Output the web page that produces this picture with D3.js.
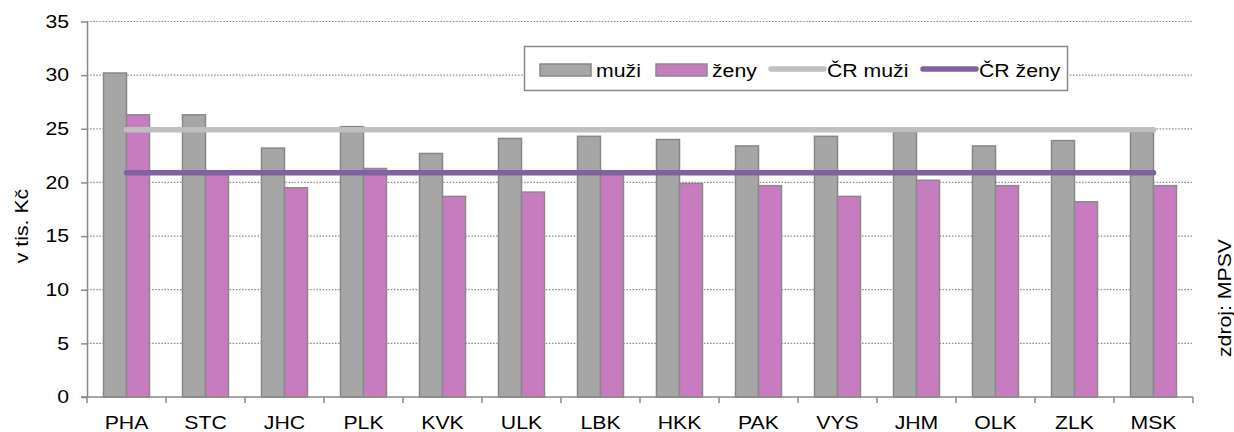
<!DOCTYPE html>
<html>
<head>
<meta charset="utf-8">
<script src="https://cdn.jsdelivr.net/npm/d3@7"></script>
<style>
  html, body { margin: 0; padding: 0; background: #fff; }
  svg { display: block; font-family: "Liberation Sans", Arial, sans-serif; }
</style>
</head>
<body>
<div id="chart"></div>
<script>
// kraje
const regions = ["PHA", "STC", "JHC", "PLK", "KVK", "ULK", "LBK", "HKK", "PAK", "VYS", "JHM", "OLK", "ZLK", "MSK"];
// průměrná mzda, v tis. Kč
const muzi = [30.2, 26.3, 23.2, 25.2, 22.7, 24.1, 24.3, 24.0, 23.4, 24.3, 24.7, 23.4, 23.9, 24.7];
const zeny = [26.3, 21.0, 19.5, 21.3, 18.7, 19.1, 20.9, 19.9, 19.7, 18.7, 20.2, 19.7, 18.2, 19.7];
const crMuzi = 24.9;
const crZeny = 20.9;
const yTicks = [0, 5, 10, 15, 20, 25, 30, 35];

const width = 1234, height = 432;
const marginLeft = 87, marginRight = 41, marginTop = 21.5, marginBottom = 35;
const axisColor = "#888888";
const grayFill = "#a6a6a6", pinkFill = "#c67cbe";
const lineGray = "#bfbfbf", linePurple = "#7f62a1";
const stretchX = 1.18; // text in the source is rendered wider

const svg = d3.select("#chart").append("svg")
    .attr("width", width)
    .attr("height", height)
    .attr("viewBox", [0, 0, width, height]);

const x = d3.scaleBand()
    .domain(regions)
    .range([marginLeft, width - marginRight]);

const y = d3.scaleLinear()
    .domain([0, 35])
    .range([height - marginBottom, marginTop]);

const barW = 23;

function stretch(sel) {
  sel.each(function () {
    const w = this.getComputedTextLength();
    this.setAttribute("textLength", w * stretchX);
    this.setAttribute("lengthAdjust", "spacingAndGlyphs");
  });
}

// mřížka
svg.append("g")
  .selectAll("line")
  .data(yTicks.filter(d => d > 0))
  .join("line")
    .attr("x1", marginLeft)
    .attr("x2", width - marginRight)
    .attr("y1", d => y(d))
    .attr("y2", d => y(d))
    .attr("stroke", axisColor)
    .attr("stroke-width", 1.2)
    .attr("stroke-dasharray", "1.5,1.6");

// sloupce
const cx = d => x(d) + x.bandwidth() / 2;

svg.append("g")
  .selectAll("rect")
  .data(regions)
  .join("rect")
    .attr("x", d => cx(d) - barW)
    .attr("y", (d, i) => y(muzi[i]))
    .attr("width", barW)
    .attr("height", (d, i) => y(0) - y(muzi[i]))
    .attr("fill", grayFill)
    .attr("stroke", "#878787")
    .attr("stroke-width", 1.5);

svg.append("g")
  .selectAll("rect")
  .data(regions)
  .join("rect")
    .attr("x", d => cx(d))
    .attr("y", (d, i) => y(zeny[i]))
    .attr("width", barW)
    .attr("height", (d, i) => y(0) - y(zeny[i]))
    .attr("fill", pinkFill)
    .attr("stroke", "#8a8a8a")
    .attr("stroke-width", 1.5);

// průměr ČR
const line = d3.line().x(d => cx(d[0])).y(d => y(d[1]));
[[crMuzi, lineGray], [crZeny, linePurple]].forEach(([v, c]) => {
  svg.append("path")
    .attr("d", line(regions.map(r => [r, v])))
    .attr("fill", "none")
    .attr("stroke", c)
    .attr("stroke-width", 5.5)
    .attr("stroke-linecap", "round");
});

// osa y
const yAxis = svg.append("g")
    .attr("transform", `translate(${marginLeft},0)`)
    .call(d3.axisLeft(y).tickValues(yTicks).tickSize(6).tickPadding(12).tickSizeOuter(0));
yAxis.select(".domain").attr("stroke", axisColor).attr("stroke-width", 1.5);
yAxis.selectAll(".tick line").attr("stroke", axisColor).attr("stroke-width", 1.5);
yAxis.selectAll(".tick text")
    .attr("font-size", 18)
    .attr("fill", "#000")
    .attr("font-family", "Liberation Sans, Arial, sans-serif")
    .call(stretch);

// osa x
const xAxis = svg.append("g")
    .attr("transform", `translate(0,${y(0)})`);
xAxis.append("line")
    .attr("x1", marginLeft - 6)
    .attr("x2", width - marginRight)
    .attr("stroke", axisColor)
    .attr("stroke-width", 1.5);
xAxis.selectAll(".sep")
  .data(regions.concat(["end"]))
  .join("line")
    .attr("class", "sep")
    .attr("x1", (d, i) => i < regions.length ? x(d) : x.range()[1])
    .attr("x2", (d, i) => i < regions.length ? x(d) : x.range()[1])
    .attr("y1", 0)
    .attr("y2", 6)
    .attr("stroke", axisColor)
    .attr("stroke-width", 1.5);
xAxis.selectAll("text")
  .data(regions)
  .join("text")
    .attr("x", d => cx(d))
    .attr("y", 32)
    .attr("text-anchor", "middle")
    .attr("font-size", 18)
    .text(d => d)
    .call(stretch);

// popisky os
svg.append("text")
    .attr("transform", `translate(28,226) rotate(-90)`)
    .attr("text-anchor", "middle")
    .attr("font-size", 18)
    .text("v tis. Kč")
    .call(stretch);

svg.append("text")
    .attr("transform", `translate(1231,298) rotate(-90)`)
    .attr("text-anchor", "middle")
    .attr("font-size", 18)
    .text("zdroj: MPSV")
    .call(stretch);

// legenda
const legend = svg.append("g");
legend.append("rect")
    .attr("x", 524.5)
    .attr("y", 46.5)
    .attr("width", 543)
    .attr("height", 44)
    .attr("fill", "#fff")
    .attr("stroke", axisColor)
    .attr("stroke-width", 1.5);

const legendItems = [
  { label: "muži", type: "bar", color: grayFill, stroke: "#878787", x0: 540 },
  { label: "ženy", type: "bar", color: pinkFill, stroke: "#8a8a8a", x0: 656 },
  { label: "ČR muži", type: "line", color: lineGray, x0: 771 },
  { label: "ČR ženy", type: "line", color: linePurple, x0: 923 }
];

legendItems.forEach(it => {
  if (it.type === "bar") {
    legend.append("rect")
        .attr("x", it.x0)
        .attr("y", 64)
        .attr("width", 51)
        .attr("height", 12)
        .attr("fill", it.color)
        .attr("stroke", it.stroke)
        .attr("stroke-width", 1.5);
  } else {
    legend.append("line")
        .attr("x1", it.x0)
        .attr("x2", it.x0 + 53)
        .attr("y1", 69)
        .attr("y2", 69)
        .attr("stroke", it.color)
        .attr("stroke-width", 5.5)
        .attr("stroke-linecap", "round");
  }
  legend.append("text")
      .attr("x", it.type === "bar" ? it.x0 + 56 : it.x0 + 56)
      .attr("y", 77)
      .attr("font-size", 18)
      .text(it.label)
      .call(stretch);
});
</script>
</body>
</html>
